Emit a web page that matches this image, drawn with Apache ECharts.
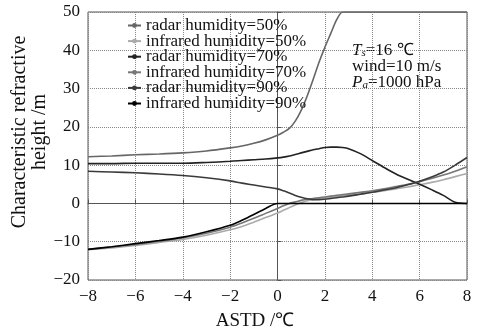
<!DOCTYPE html>
<html>
<head>
<meta charset="utf-8">
<script src="https://cdn.jsdelivr.net/npm/echarts@6/dist/echarts.min.js"></script>
<style>
  html, body { margin: 0; padding: 0; background: #fff; }
  #chart { width: 480px; height: 332px; }
</style>
</head>
<body>
<div id="chart"></div>
<script>
// ASTD values (x), shared by all series
const astd = [-8,-7,-6,-5,-4,-3,-2,-1.5,-1,-0.5,0,0.25,0.5,0.75,1,1.25,1.5,1.75,2,2.25,2.5,2.75,3,3.5,4,4.5,5,5.5,6,6.5,7,7.5,8];

const radar50 = [12.2,12.4,12.7,12.9,13.2,13.7,14.5,15.0,15.7,16.6,17.8,18.6,19.6,21.5,24.3,28,32.3,36.8,40.8,44.4,48.0,50,50,50,50,50,50,50,50,50,50,50,50];
const infra50 = [-12.1,-11.6,-11,-10.2,-9.4,-8.3,-6.9,-6.0,-4.9,-3.7,-2.5,-1.8,-1.1,-0.4,0.2,0.7,1.0,1.2,1.4,1.6,1.8,2.0,2.2,2.5,2.9,3.3,3.8,4.3,4.9,5.5,6.2,7.0,7.8];
const radar70 = [10.4,10.4,10.5,10.5,10.5,10.7,11.0,11.2,11.4,11.6,11.9,12.1,12.4,12.8,13.2,13.6,14.0,14.3,14.6,14.7,14.7,14.6,14.3,13.0,11.2,9.4,7.7,6.3,5.0,3.6,2.1,0.3,0];
const infra70 = [-12,-11.4,-10.7,-9.9,-9.0,-7.8,-6.2,-5.1,-3.9,-2.6,-1.3,-0.6,0,0.4,0.8,1.1,1.3,1.5,1.7,1.9,2.1,2.3,2.5,2.9,3.3,3.8,4.4,5.0,5.7,6.5,7.4,8.4,9.6];
const radar90 = [8.4,8.2,8.0,7.7,7.3,6.7,5.9,5.3,4.8,4.3,3.8,3.3,2.7,2.1,1.6,1.2,1.0,1.0,1.1,1.3,1.5,1.7,1.9,2.4,2.9,3.5,4.1,4.9,5.8,6.9,8.2,10.0,12.0];
const infra90 = [-12,-11.3,-10.5,-9.7,-8.8,-7.4,-5.7,-4.4,-2.9,-1.3,0,0,0,0,0,0,0,0,0,0,0,0,0,0,0,0,0,0,0,0,0,0,0];

const seriesNames = ['radar humidity=50%','infrared humidity=50%','radar humidity=70%','infrared humidity=70%','radar humidity=90%','infrared humidity=90%'];
const seriesData = [radar50, infra50, radar70, infra70, radar90, infra90];
const seriesColors = ['#666','#aaa','#222','#777','#3a3a3a','#000'];

const font = 'Liberation Serif';
const minus = v => (v < 0 ? '\u2212' + Math.abs(v) : String(v));

const chart = echarts.init(document.getElementById('chart'));
chart.setOption({
  animation: false,
  backgroundColor: '#fff',
  grid: { left: 88, right: 13, top: 12, bottom: 52, show: true, borderColor: '#555', borderWidth: 1 },
  legend: {
    orient: 'vertical', left: 122, top: 12, itemGap: -1.4, itemWidth: 13, itemHeight: 6,
    textStyle: { fontFamily: font, fontSize: 17, color: '#111' },
    data: seriesNames
  },
  xAxis: {
    type: 'value', min: -8, max: 8, interval: 2,
    axisLine: { lineStyle: { color: '#555' } },
    axisTick: { inside: true, length: 4, lineStyle: { color: '#555' } },
    axisLabel: { fontFamily: font, fontSize: 17, color: '#111', margin: 8, formatter: minus },
    splitLine: { show: true, lineStyle: { type: 'dotted', color: '#888' } }
  },
  yAxis: {
    type: 'value', min: -20, max: 50, interval: 10,
    axisLine: { show: true, lineStyle: { color: '#555' } },
    axisTick: { show: true, inside: true, length: 4, lineStyle: { color: '#555' } },
    axisLabel: { fontFamily: font, fontSize: 17, color: '#111', margin: 8, formatter: minus },
    splitLine: { show: true, lineStyle: { type: 'dotted', color: '#888' } }
  },
  series: seriesData.map((vals, i) => ({
    name: seriesNames[i], type: 'line', smooth: 0.3,
    data: astd.map((x, j) => [x, vals[j]]),
    symbol: 'circle', symbolSize: 3, showSymbol: false,
    lineStyle: { width: 1.6, color: seriesColors[i] },
    itemStyle: { color: seriesColors[i] }
  })),
  graphic: [
    {
      type: 'text', x: 30, y: 132, rotation: Math.PI / 2,
      style: { text: 'Characteristic refractive\nheight /m', fontFamily: font, fontSize: 20, lineHeight: 20,
               fill: '#111', align: 'center', verticalAlign: 'middle' }
    },
    {
      type: 'text', x: 255, y: 321,
      style: { text: 'ASTD /\u2103', fontFamily: font, fontSize: 19, fill: '#111', align: 'center', verticalAlign: 'middle' }
    },
    {
      type: 'text', x: 352, y: 43,
      style: {
        text: '{i|T}{s|s}{n|=16 \u2103}\n{n|wind=10 m/s}\n{i|P}{s|a}{n|=1000 hPa}',
        fill: '#111',
        rich: {
          i: { fontFamily: font, fontSize: 17, fontStyle: 'italic', lineHeight: 16, fill: '#111' },
          n: { fontFamily: font, fontSize: 17, lineHeight: 16, fill: '#111' },
          s: { fontFamily: font, fontSize: 11, fontStyle: 'italic', lineHeight: 16, verticalAlign: 'bottom', padding: [8, 0, 0, 0], fill: '#111' }
        }
      }
    }
  ]
});
</script>
</body>
</html>
